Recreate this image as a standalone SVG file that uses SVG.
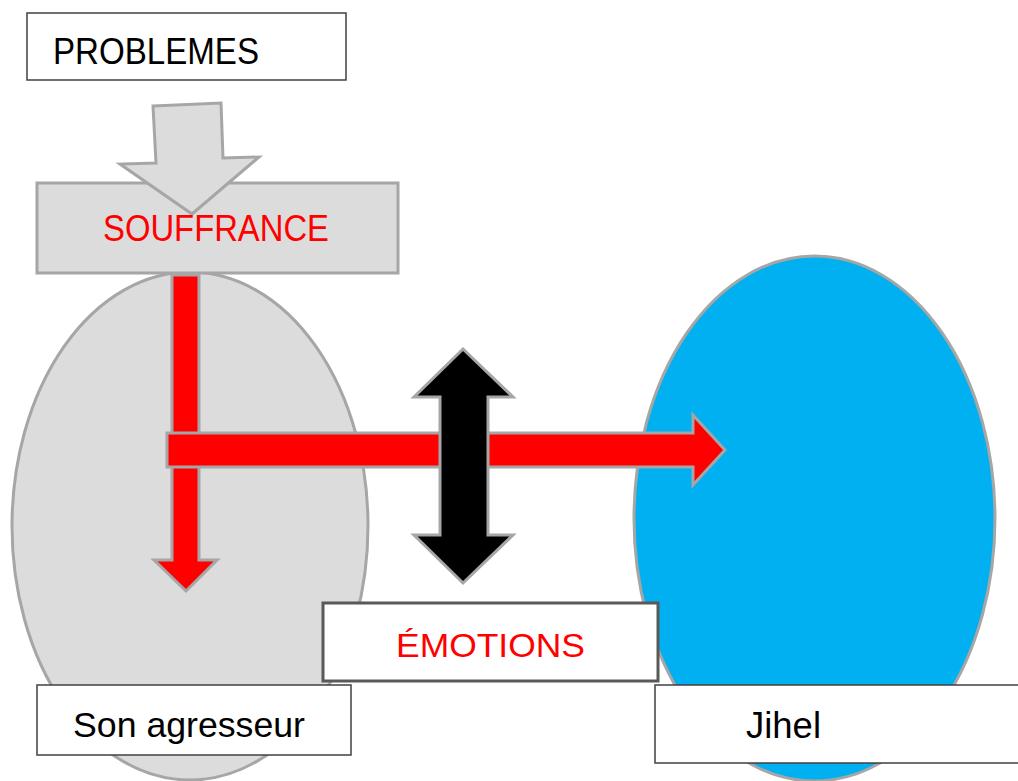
<svg xmlns="http://www.w3.org/2000/svg" width="1018" height="781" viewBox="0 0 1018 781">
<style>
.lbl{font-family:"Liberation Sans",Arial,sans-serif;}
.gray{fill:#dcdcdc;stroke:#a6a6a6;stroke-width:3;stroke-linejoin:miter;}
.redarrow{fill:#ff0000;stroke:#a6a6a6;stroke-width:3;}
.box{fill:#ffffff;stroke:#404040;stroke-width:1.5;}
</style>
<rect width="1018" height="781" fill="#ffffff"/>
<g id="agresseur-ellipse">
<ellipse cx="190" cy="526" rx="178" ry="254" class="gray"/>
</g>
<g id="jihel-ellipse">
<ellipse cx="814.5" cy="518.5" rx="180.5" ry="262.5" fill="#00b0f0" stroke="#a6a6a6" stroke-width="3"/>
</g>
<g id="problemes">
<rect x="27" y="13" width="319" height="67" class="box"/>
<text x="53" y="64" class="lbl" font-size="37" fill="#000000" textLength="206" lengthAdjust="spacingAndGlyphs">PROBLEMES</text>
</g>
<g id="souffrance">
<rect x="37" y="183" width="361" height="90" class="gray"/>
</g>
<g id="connectors">
<polygon class="gray" points="153,106 221,103 223,158 259,157 192,214 120,164 156,163"/>
<polygon class="redarrow" points="172,275 199,275 199,560 217,560 186,591 154,560 172,560"/>
<polygon class="redarrow" points="167,433 693,433 693,415 725,450 693,485 693,467 167,467"/>
<polygon fill="#000000" stroke="#a6a6a6" stroke-width="3" points="463,349 513,397 488,397 488,535 513,535 463,583 414,535 440,535 440,397 414,397"/>
</g>
<g id="souffrance-label">
<text x="103" y="241" class="lbl" font-size="36" fill="#ff0000" textLength="226" lengthAdjust="spacingAndGlyphs">SOUFFRANCE</text>
</g>
<g id="emotions">
<rect x="323" y="603" width="335" height="78" fill="#ffffff" stroke="#595959" stroke-width="3"/>
<text x="396" y="657" class="lbl" font-size="34" fill="#ff0000" textLength="189" lengthAdjust="spacingAndGlyphs">ÉMOTIONS</text>
</g>
<g id="son-agresseur">
<rect x="37" y="685" width="314" height="70" class="box"/>
<text x="73" y="737" class="lbl" font-size="35" fill="#000000" textLength="232" lengthAdjust="spacingAndGlyphs">Son agresseur</text>
</g>
<g id="jihel">
<rect x="655" y="685" width="380" height="78" class="box"/>
<text x="746" y="738" class="lbl" font-size="36" fill="#000000" textLength="75" lengthAdjust="spacingAndGlyphs">Jihel</text>
</g>
</svg>
